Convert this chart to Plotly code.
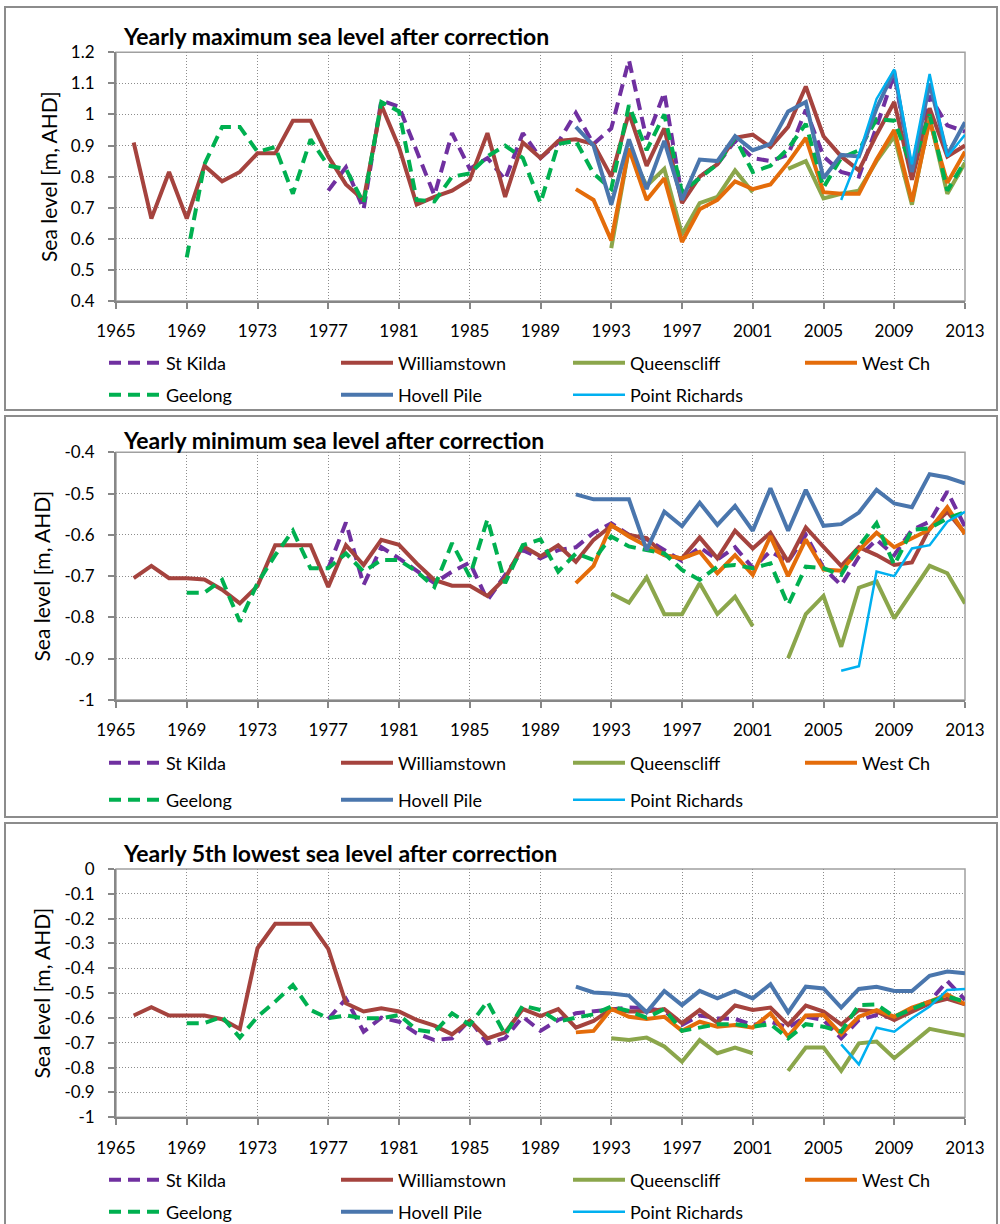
import plotly.graph_objects as go

# ---------------------------------------------------------------------------
# Station records (first year of each record, then yearly values in m AHD)
# ---------------------------------------------------------------------------
STATIONS = ["St Kilda", "Williamstown", "Queensclif", "West Ch",
            "Geelong", "Hovell Pile", "Point Richards"]
LEGEND_LABELS = ["St Kilda", "Williamstown", "Queenscliff", "West Ch",
                 "Geelong", "Hovell Pile", "Point Richards"]

START_YEAR = {
    "St Kilda": 1977, "Williamstown": 1966, "Queensclif": 1993, "West Ch": 1991,
    "Geelong": 1969, "Hovell Pile": 1991, "Point Richards": 2006,
}

# Yearly maximum sea level
MAX_ST_KILDA = [0.755, 0.83, 0.695, 1.045, 1.025, 0.885, 0.74, 0.94, 0.825, 0.86,
                0.79, 0.94, 0.86, 0.91, 1.005, 0.905, 0.955, 1.175, 0.92, 1.07,
                0.735, 0.8, 0.84, 0.915, 0.86, 0.85, 0.87, 1.015, 0.865, 0.815,
                0.8, 0.96, 1.13, 0.81, 1.06, 0.965, 0.945]
MAX_WILLIAMSTOWN = [0.91, 0.665, 0.815, 0.665, 0.835, 0.785, 0.815, 0.875, 0.875, 0.98,
                    0.98, 0.865, 0.775, 0.725, 1.03, 0.895, 0.71, 0.735, 0.755, 0.79,
                    0.94, 0.735, 0.91, 0.86, 0.915, 0.92, 0.905, 0.8, 1.005, 0.835,
                    0.955, 0.715, 0.8, 0.84, 0.925, 0.935, 0.895, 0.96, 1.09, 0.93,
                    0.865, 0.82, 0.935, 1.04, 0.79, 1.02, 0.865, 0.9]
MAX_QUEENSCLIF = [0.57, 0.89, 0.77, 0.825, 0.615, 0.715, 0.735, 0.82, 0.75, None,
                  0.825, 0.85, 0.73, 0.745, 0.755, 0.85, 0.93, 0.71, 0.99, 0.745, 0.845]
MAX_WEST_CH = [0.76, 0.725, 0.595, 0.89, 0.725, 0.795, 0.59, 0.695, 0.725, 0.785,
               0.76, 0.775, 0.845, 0.925, 0.75, 0.745, 0.745, 0.855, 0.95, 0.72,
               0.98, 0.78, 0.88]
MAX_GEELONG = [0.54, 0.84, 0.96, 0.96, 0.88, 0.895, 0.745, 0.92, 0.835, 0.825,
               0.715, 1.04, 1.01, 0.725, 0.72, 0.8, 0.81, 0.865, 0.9, 0.86,
               0.715, 0.905, 0.915, 0.81, 0.76, 1.03, 0.885, 1.0, 0.75, 0.795,
               0.84, 0.925, 0.815, 0.835, 0.89, 0.97, 0.765, 0.86, 0.885, 0.985,
               0.98, 0.83, 1.0, 0.755, 0.85]
MAX_HOVELL = [0.96, 0.9, 0.71, 0.92, 0.76, 0.915, 0.725, 0.855, 0.85, 0.93,
              0.885, 0.905, 1.01, 1.04, 0.795, 0.87, 0.865, 1.02, 1.14, 0.815,
              1.1, 0.87, 0.975]
MAX_POINT_RICHARDS = [0.725, 0.87, 1.05, 1.145, 0.84, 1.13, 0.865, 0.935]

# Yearly minimum sea level
MIN_ST_KILDA = [-0.681, -0.57, -0.721, -0.63, -0.657, -0.687, -0.717, -0.689, -0.667, -0.758,
                -0.697, -0.637, -0.657, -0.637, -0.63, -0.595, -0.572, -0.6, -0.611, -0.637,
                -0.663, -0.63, -0.66, -0.63, -0.68, -0.64, -0.665, -0.6, -0.68, -0.722,
                -0.653, -0.612, -0.649, -0.588, -0.568, -0.495, -0.58]
MIN_WILLIAMSTOWN = [-0.705, -0.675, -0.705, -0.705, -0.708, -0.733, -0.766, -0.724, -0.625, -0.625,
                    -0.625, -0.726, -0.625, -0.673, -0.612, -0.624, -0.669, -0.709, -0.723, -0.723,
                    -0.748, -0.705, -0.627, -0.652, -0.625, -0.665, -0.612, -0.578, -0.6, -0.608,
                    -0.649, -0.657, -0.606, -0.657, -0.59, -0.633, -0.595, -0.665, -0.582, -0.629,
                    -0.675, -0.63, -0.649, -0.673, -0.667, -0.584, -0.544, -0.596]
MIN_QUEENSCLIF = [-0.742, -0.764, -0.703, -0.792, -0.792, -0.717, -0.792, -0.75, -0.821, None,
                  -0.899, -0.792, -0.748, -0.871, -0.728, -0.713, -0.802, -0.738, -0.675, -0.693,
                  -0.766]
MIN_WEST_CH = [-0.717, -0.675, -0.576, -0.604, -0.627, -0.649, -0.657, -0.641, -0.693, -0.649,
               -0.697, -0.603, -0.7, -0.611, -0.684, -0.687, -0.637, -0.595, -0.63, -0.608,
               -0.587, -0.533, -0.598]
MIN_GEELONG = [-0.74, -0.74, -0.709, -0.81, -0.717, -0.649, -0.59, -0.681, -0.681, -0.645,
               -0.689, -0.661, -0.661, -0.689, -0.726, -0.62, -0.701, -0.562, -0.717, -0.625,
               -0.611, -0.689, -0.645, -0.661, -0.604, -0.628, -0.637, -0.645, -0.685, -0.709,
               -0.677, -0.673, -0.681, -0.669, -0.77, -0.677, -0.681, -0.697, -0.628, -0.572,
               -0.673, -0.588, -0.584, -0.56, -0.545]
MIN_HOVELL = [-0.502, -0.514, -0.514, -0.514, -0.637, -0.544, -0.579, -0.522, -0.576, -0.53,
              -0.59, -0.487, -0.59, -0.491, -0.578, -0.574, -0.546, -0.491, -0.524, -0.533,
              -0.453, -0.461, -0.475]
MIN_POINT_RICHARDS = [-0.929, -0.918, -0.689, -0.7, -0.633, -0.625, -0.568, -0.544]

# Yearly 5th lowest sea level
LOW5_ST_KILDA = [-0.604, -0.523, -0.655, -0.599, -0.615, -0.662, -0.689, -0.682, -0.608, -0.702,
                 -0.682, -0.595, -0.652, -0.608, -0.581, -0.574, -0.564, -0.558, -0.561, -0.572,
                 -0.628, -0.59, -0.601, -0.604, -0.628, -0.615, -0.639, -0.595, -0.608, -0.682,
                 -0.608, -0.588, -0.601, -0.561, -0.534, -0.451, -0.527]
LOW5_WILLIAMSTOWN = [-0.59, -0.557, -0.59, -0.59, -0.59, -0.605, -0.644, -0.319, -0.221, -0.221,
                     -0.221, -0.322, -0.541, -0.574, -0.561, -0.574, -0.608, -0.631, -0.666, -0.611,
                     -0.682, -0.658, -0.564, -0.592, -0.564, -0.639, -0.612, -0.564, -0.574, -0.574,
                     -0.564, -0.621, -0.568, -0.619, -0.55, -0.568, -0.558, -0.628, -0.55, -0.574,
                     -0.626, -0.568, -0.574, -0.608, -0.574, -0.541, -0.523, -0.545]
LOW5_QUEENSCLIF = [-0.682, -0.689, -0.679, -0.715, -0.776, -0.689, -0.742, -0.719, -0.742, None,
                   -0.813, -0.719, -0.719, -0.813, -0.702, -0.695, -0.762, -0.702, -0.644, -0.658,
                   -0.671]
LOW5_WEST_CH = [-0.658, -0.652, -0.564, -0.595, -0.604, -0.595, -0.652, -0.615, -0.635, -0.628,
                -0.639, -0.581, -0.675, -0.59, -0.588, -0.666, -0.595, -0.568, -0.595, -0.558,
                -0.534, -0.505, -0.545]
LOW5_GEELONG = [-0.621, -0.621, -0.595, -0.679, -0.595, -0.534, -0.467, -0.568, -0.601, -0.59,
                -0.601, -0.601, -0.588, -0.648, -0.658, -0.581, -0.628, -0.534, -0.668, -0.55,
                -0.568, -0.615, -0.599, -0.585, -0.554, -0.572, -0.599, -0.564, -0.652, -0.639,
                -0.625, -0.625, -0.635, -0.625, -0.682, -0.625, -0.635, -0.655, -0.548, -0.545,
                -0.595, -0.564, -0.534, -0.514, -0.534]
LOW5_HOVELL = [-0.474, -0.497, -0.501, -0.51, -0.577, -0.491, -0.548, -0.491, -0.521, -0.491,
               -0.521, -0.464, -0.577, -0.474, -0.481, -0.558, -0.483, -0.474, -0.491, -0.491,
               -0.43, -0.413, -0.42]
LOW5_POINT_RICHARDS = [-0.706, -0.787, -0.639, -0.655, -0.601, -0.554, -0.487, -0.483]

PANEL_TITLES = ["Yearly maximum sea level after correction",
                "Yearly minimum sea level after correction",
                "Yearly 5th lowest sea level after correction"]
Y_TICKS = [[0.4, 0.5, 0.6, 0.7, 0.8, 0.9, 1.0, 1.1, 1.2],
           [-1.0, -0.9, -0.8, -0.7, -0.6, -0.5, -0.4],
           [-1.0, -0.9, -0.8, -0.7, -0.6, -0.5, -0.4, -0.3, -0.2, -0.1, 0.0]]
X_TICKS = list(range(1965, 2014, 4))

PANEL_DATA = [
    [MAX_ST_KILDA, MAX_WILLIAMSTOWN, MAX_QUEENSCLIF, MAX_WEST_CH,
     MAX_GEELONG, MAX_HOVELL, MAX_POINT_RICHARDS],
    [MIN_ST_KILDA, MIN_WILLIAMSTOWN, MIN_QUEENSCLIF, MIN_WEST_CH,
     MIN_GEELONG, MIN_HOVELL, MIN_POINT_RICHARDS],
    [LOW5_ST_KILDA, LOW5_WILLIAMSTOWN, LOW5_QUEENSCLIF, LOW5_WEST_CH,
     LOW5_GEELONG, LOW5_HOVELL, LOW5_POINT_RICHARDS],
]

# ---------------------------------------------------------------------------
# Styling
# ---------------------------------------------------------------------------
STYLE = {
    "St Kilda":       dict(color="#7030A0", width=4, dash="12px,7px"),
    "Williamstown":   dict(color="#A5433E", width=4, dash="solid"),
    "Queensclif":     dict(color="#8BA64B", width=4, dash="solid"),
    "West Ch":        dict(color="#E46C0A", width=4, dash="solid"),
    "Geelong":        dict(color="#00B050", width=4, dash="12px,7px"),
    "Hovell Pile":    dict(color="#4A76AD", width=4, dash="solid"),
    "Point Richards": dict(color="#00B0F0", width=2.5, dash="solid"),
}

W, H = 1000, 1224
FONT = "Lato, 'Open Sans', sans-serif"
AXIS_GREY = "#878787"
GRID_GREY = "#8C8C8C"
GRID_DASH = "1px,2px"

# pixel geometry of each panel: (plot top, plot bottom, box top, box bottom,
#                                title y, legend row 1 y, legend row 2 y)
PANELS = [
    (52.3, 301.0, 7, 410, 36, 363, 395),
    (452.3, 700.0, 416, 817, 440, 763, 800),
    (869.0, 1117.3, 823, 1228, 853, 1180, 1212),
]
PLOT_X0, PLOT_X1 = 116, 965


def py(pix):
    """Convert a pixel row (from top) into paper y."""
    return 1 - pix / H


fig = go.Figure()
layout = dict(
    width=W, height=H,
    margin=dict(l=0, r=0, t=0, b=0, autoexpand=False),
    paper_bgcolor="white", plot_bgcolor="white",
    font=dict(family=FONT, size=17, color="#000000"),
    showlegend=True,
    template="none",
)
shapes, annotations = [], []

for p, (values_list, (ptop, pbot, btop, bbot, ty, ly1, ly2)) in enumerate(zip(PANEL_DATA, PANELS)):
    suffix = "" if p == 0 else str(p + 1)
    xa, ya = "x" + suffix, "y" + suffix
    leg_a = "legend" if p == 0 else f"legend{2 * p + 1}"
    leg_b = f"legend{2 * p + 2}"

    for k, (station, vals) in enumerate(zip(STATIONS, values_list)):
        start = START_YEAR[station]
        years = list(range(start, start + len(vals)))
        st = STYLE[station]
        fig.add_trace(go.Scatter(
            x=years, y=vals, mode="lines", name=LEGEND_LABELS[k],
            line=dict(color=st["color"], width=st["width"], dash=st["dash"]),
            xaxis=xa, yaxis=ya, legend=leg_a if k < 4 else leg_b,
            hoverinfo="x+y+name",
        ))

    yt = Y_TICKS[p]
    layout["xaxis" + suffix] = dict(
        domain=[PLOT_X0 / W, PLOT_X1 / W], anchor=ya, range=[1965, 2013],
        tickmode="array", tickvals=X_TICKS, ticktext=[str(v) for v in X_TICKS],
        showgrid=True, gridcolor=GRID_GREY, gridwidth=1, griddash=GRID_DASH,
        showline=True, linecolor=AXIS_GREY, linewidth=2,
        ticks="outside", ticklen=6, tickwidth=1.5, tickcolor=AXIS_GREY,
        tickfont=dict(size=17, family=FONT), ticklabelstandoff=8,
        zeroline=False, fixedrange=True,
    )
    layout["yaxis" + suffix] = dict(
        domain=[py(pbot), py(ptop)], anchor=xa, range=[yt[0], yt[-1]],
        tickmode="array", tickvals=yt,
        ticktext=[("%g" % v).replace("\u2212", "-") for v in yt],
        showgrid=True, gridcolor=GRID_GREY, gridwidth=1, griddash=GRID_DASH,
        showline=True, linecolor=AXIS_GREY, linewidth=2,
        ticks="outside", ticklen=6, tickwidth=1.5, tickcolor=AXIS_GREY,
        tickfont=dict(size=17, family=FONT), ticklabelstandoff=10,
        title=dict(text="Sea level [m, AHD]", font=dict(size=21, family=FONT), standoff=8),
        zeroline=False, fixedrange=True,
    )

    # plot-area frame
    shapes.append(dict(type="rect", xref=xa + " domain", yref=ya + " domain",
                       x0=0, x1=1, y0=0, y1=1, line=dict(color="#A0A0A0", width=1.5),
                       layer="below"))
    # chart box
    shapes.append(dict(type="rect", xref="paper", yref="paper",
                       x0=5 / W, x1=997 / W, y0=py(bbot), y1=py(btop),
                       line=dict(color="#8C8C8C", width=2), layer="below"))
    annotations.append(dict(text="<b>" + PANEL_TITLES[p] + "</b>", xref="paper", yref="paper",
                            x=121 / W, y=py(ty), xanchor="left", yanchor="middle",
                            showarrow=False, font=dict(size=23, family=FONT, color="#000000")))

    for leg_id, ly in ((leg_a, ly1), (leg_b, ly2)):
        layout[leg_id] = dict(
            orientation="h", x=104 / W, y=py(ly), xanchor="left", yanchor="middle",
            xref="paper", yref="paper", bgcolor="rgba(0,0,0,0)", borderwidth=0,
            entrywidth=165, entrywidthmode="pixels", itemwidth=52,
            font=dict(size=18, family=FONT, color="#000000"),
            itemclick=False, itemdoubleclick=False,
        )

layout["shapes"] = shapes
layout["annotations"] = annotations
fig.update_layout(**layout)

fig.write_html("out.html")
